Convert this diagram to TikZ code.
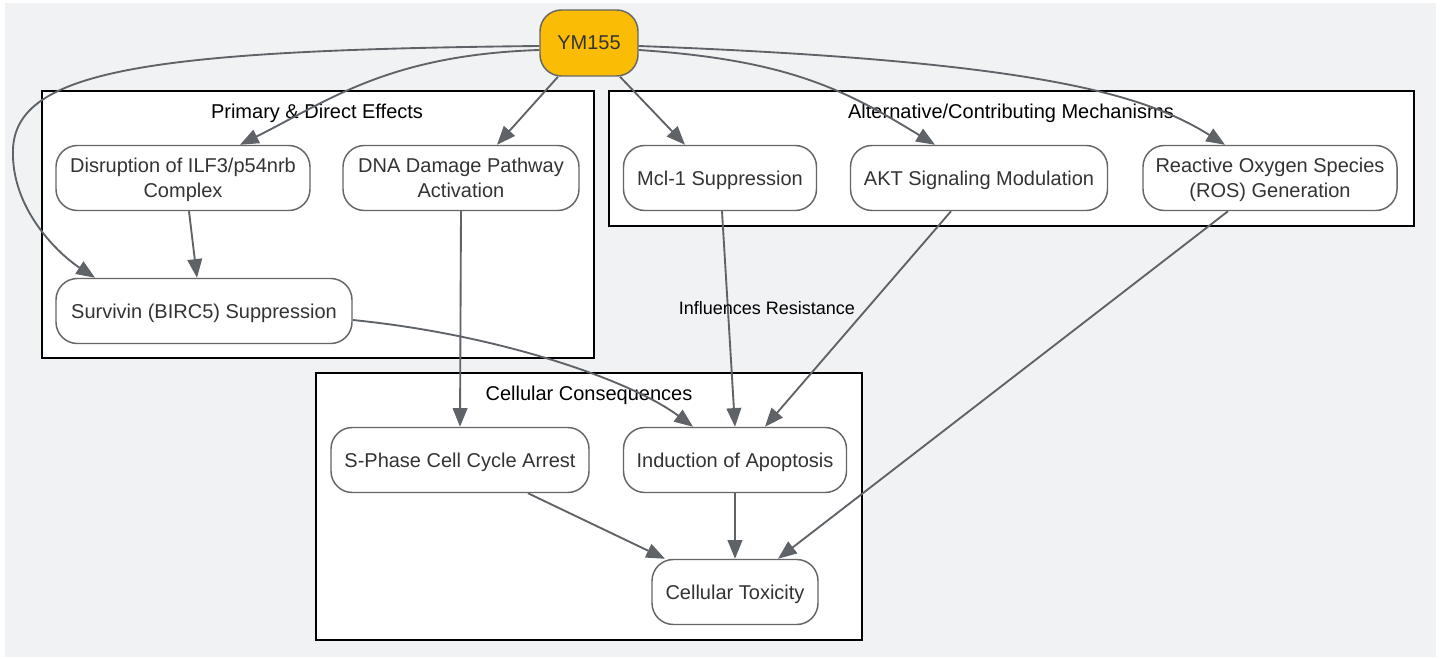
\documentclass[tikz,border=0pt]{standalone}
\usepackage{fontspec}
\setmainfont{Liberation Sans}
\usetikzlibrary{arrows.meta,calc}

\definecolor{pagegray}{HTML}{F1F2F4}
\definecolor{edgegray}{HTML}{5F6368}
\definecolor{boxgray}{HTML}{666666}
\definecolor{textgray}{HTML}{333333}
\definecolor{ymyellow}{HTML}{FBBC05}

\tikzset{
	stepbox/.style={draw=boxgray, line width=1.1pt, fill=white, rounded corners=16pt,
		align=center, text=textgray, font=\fontsize{15}{18.75}\selectfont,
		minimum height=48.75pt, inner sep=0pt, text depth=0pt},
	groupbox/.style={draw=black, line width=1.4pt, fill=white},
	grouptitle/.style={text=black, font=\fontsize{15}{18}\selectfont, text depth=0pt},
	link/.style={draw=edgegray, line width=1.4pt, -{Triangle[length=14pt,width=11pt]}},
	edgetext/.style={text=black, font=\fontsize{13.5}{16}\selectfont},
}

\begin{document}
\begin{tikzpicture}[x=0.75pt, y=-0.75pt]
	\useasboundingbox (0,0) rectangle (1442,659);
	\fill[white] (0,0) rectangle (1442,659);
	\fill[pagegray] (5,3) rectangle (1436,657);

	% groups
	\draw[groupbox] (42,91) rectangle (594,358);
	\node[grouptitle] (primtitle) at (317,111) {Primary \& Direct Effects};
	\draw[groupbox] (609,91) rectangle (1414,226);
	\node[grouptitle] (alttitle) at (1011,111) {Alternative/Contributing Mechanisms};
	\draw[groupbox] (316,373) rectangle (862,640);
	\node[grouptitle] (celltitle) at (589,393) {Cellular Consequences};

	% nodes
	\node[stepbox, fill=ymyellow, minimum width=73.5pt, minimum height=49.5pt] (ym) at (589,43) {YM155};

	\node[stepbox, minimum width=190.5pt] (ilf) at (183,178) {Disruption of ILF3/p54nrb\\Complex};
	\node[stepbox, minimum width=177pt] (dna) at (461,178) {DNA Damage Pathway\\Activation};
	\node[stepbox, minimum width=222pt] (surv) at (204,311) {Survivin (BIRC5) Suppression};

	\node[stepbox, minimum width=144.75pt] (mcl) at (720,178) {Mcl-1 Suppression};
	\node[stepbox, minimum width=192.75pt] (akt) at (979,178) {AKT Signaling Modulation};
	\node[stepbox, minimum width=190.5pt] (ros) at (1270,178) {Reactive Oxygen Species\\(ROS) Generation};

	\node[stepbox, minimum width=193.5pt] (sphase) at (460,460) {S-Phase Cell Cycle Arrest};
	\node[stepbox, minimum width=167.25pt] (apop) at (735,460) {Induction of Apoptosis};
	\node[stepbox, minimum width=124.5pt] (tox) at (735,592) {Cellular Toxicity};

	% edges from YM155
	\draw[link] ($(ym.west)+(0,7)$) .. controls +(-150,5) and +(90,-45) .. ($(ilf.north)+(57,0)$);
	\draw[link] ($(ym.south)+(-31,0)$) -- ($(dna.north)+(36,0)$);
	\draw[link] ($(ym.west)+(0,3)$) .. controls (150,50) and (15,70) .. (13,150)
		.. controls (11,210) and (60,255) .. ($(surv.north)+(-109,0)$);
	\draw[link] ($(ym.south)+(31,0)$) -- ($(mcl.north)+(-35,0)$);
	\draw[link] ($(ym.east)+(0,7)$) .. controls +(150,10) and +(-90,-55) .. ($(akt.north)+(-44,0)$);
	\draw[link] ($(ym.east)+(0,3)$) .. controls +(400,15) and +(-80,-50) .. ($(ros.north)+(-45,0)$);

	\draw[link] ($(ilf.south)+(6,0)$) -- ($(surv.north)+(-7,0)$);
	\draw[link] (dna.south) -- (sphase.north);
	\draw[link] ($(surv.east)+(0,9)$) .. controls +(150,15) and +(-60,-45) .. ($(apop.north)+(-42,0)$);

	\draw[link] ($(mcl.south)+(2,0)$) -- (apop.north)
		node[edgetext, pos=0.45, xshift=29.25pt] (resist) {Influences Resistance};
	\draw[link] ($(akt.south)+(-28,0)$) -- ($(apop.north)+(30,0)$);
	\draw[link] ($(ros.south)+(-42,0)$) -- ($(tox.north)+(43,0)$);

	\draw[link] ($(sphase.south)+(68,0)$) -- ($(tox.north)+(-70,0)$);
	\draw[link] (apop.south) -- (tox.north);
\end{tikzpicture}
\end{document}
